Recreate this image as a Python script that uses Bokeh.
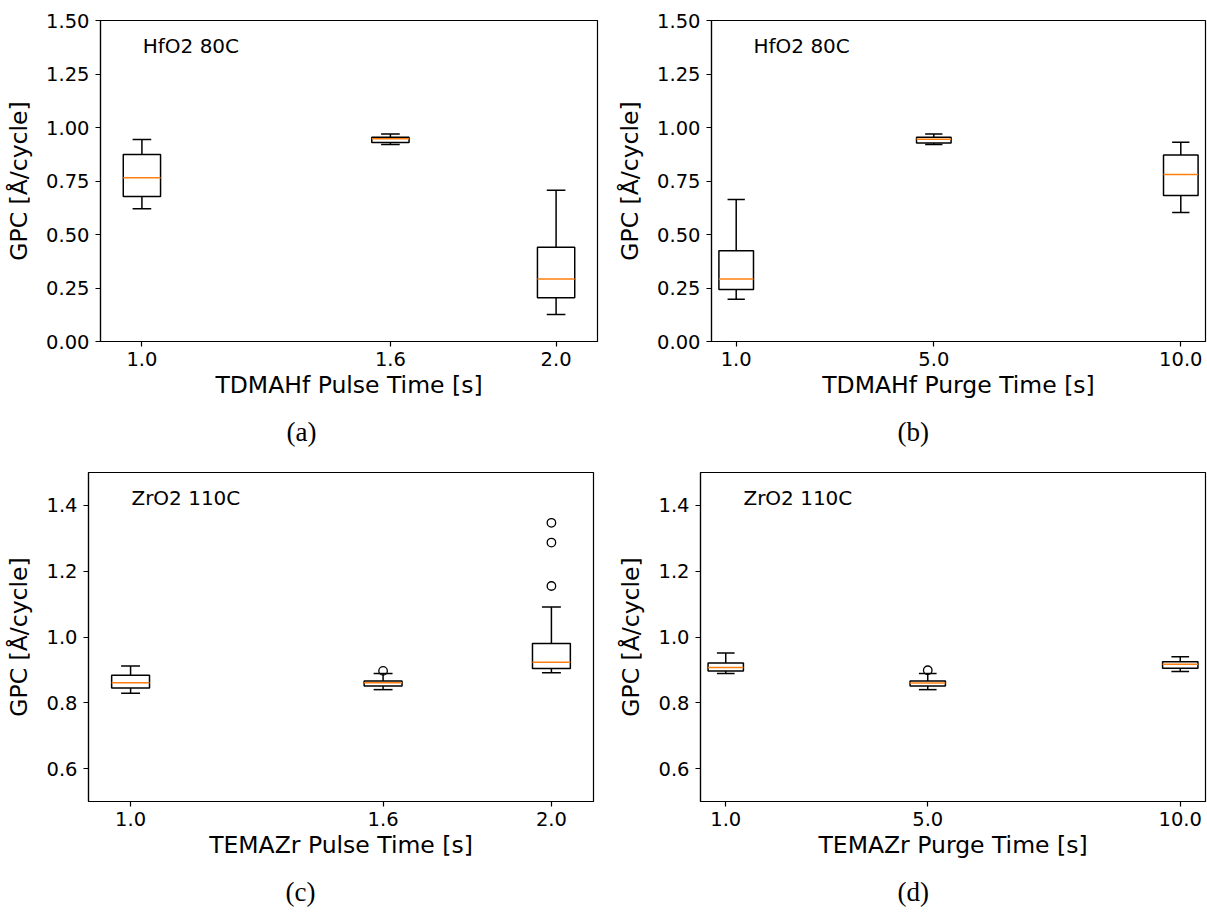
from bokeh.plotting import figure
from bokeh.layouts import row, column
from bokeh.models import (Range1d, Title, Label, FixedTicker, NumeralTickFormatter,
                          ColumnDataSource)
from bokeh.embed import file_html
from bokeh.resources import INLINE

# ---------------- data ----------------
# (a) HfO2 80C, TDMAHf pulse time
a_pos = [1.0, 1.6, 2.0]
a_low = [0.620, 0.920, 0.126]
a_q1 = [0.678, 0.930, 0.204]
a_med = [0.765, 0.947, 0.292]
a_q3 = [0.874, 0.955, 0.441]
a_high = [0.944, 0.970, 0.707]
a_fly_x = []
a_fly_y = []

# (b) HfO2 80C, TDMAHf purge time
b_pos = [1.0, 5.0, 10.0]
b_low = [0.197, 0.920, 0.603]
b_q1 = [0.243, 0.928, 0.682]
b_med = [0.292, 0.945, 0.780]
b_q3 = [0.424, 0.955, 0.871]
b_high = [0.664, 0.970, 0.931]
b_fly_x = []
b_fly_y = []

# (c) ZrO2 110C, TEMAZr pulse time
c_pos = [1.0, 1.6, 2.0]
c_low = [0.829, 0.840, 0.891]
c_q1 = [0.845, 0.851, 0.904]
c_med = [0.861, 0.861, 0.923]
c_q3 = [0.884, 0.866, 0.980]
c_high = [0.912, 0.889, 1.091]
c_fly_x = [1.6, 2.0, 2.0, 2.0]
c_fly_y = [0.897, 1.347, 1.287, 1.155]

# (d) ZrO2 110C, TEMAZr purge time
d_pos = [1.0, 5.0, 10.0]
d_low = [0.889, 0.840, 0.895]
d_q1 = [0.897, 0.851, 0.905]
d_med = [0.907, 0.860, 0.917]
d_q3 = [0.921, 0.866, 0.925]
d_high = [0.951, 0.889, 0.940]
d_fly_x = [5.0]
d_fly_y = [0.899]

top_yticks = [0.0, 0.25, 0.5, 0.75, 1.0, 1.25, 1.5]
bottom_yticks = [0.6, 0.8, 1.0, 1.2, 1.4]

FONT = "DejaVu Sans"
ORANGE = "#ff7f0e"


def panel(pos, low, q1, med, q3, high, fx, fy, *, xlabel, note, caption,
          xr, yr, yticks, yfmt, bw, width, height, bl, br, bt, bb, cap_off):
    p = figure(width=width, height=height, output_backend="svg",
               toolbar_location=None, x_range=Range1d(*xr), y_range=Range1d(*yr),
               min_border_left=bl, min_border_right=br, min_border_top=bt,
               min_border_bottom=bb)
    p.grid.visible = False
    p.outline_line_color = "black"
    p.outline_line_width = 1.2
    p.background_fill_color = "white"
    p.border_fill_color = "white"

    for ax in (p.xaxis[0], p.yaxis[0]):
        ax.axis_line_color = "black"
        ax.axis_line_width = 1.2
        ax.major_tick_line_color = "black"
        ax.major_tick_line_width = 1.2
        ax.major_tick_in = 0
        ax.major_tick_out = 5
        ax.minor_tick_line_color = None
        ax.major_label_text_font = FONT
        ax.major_label_text_font_size = "19.5px"
        ax.major_label_text_color = "black"
        ax.axis_label_text_font = FONT
        ax.axis_label_text_font_size = "23.5px"
        ax.axis_label_text_font_style = "normal"
        ax.axis_label_text_color = "black"

    p.xaxis.ticker = FixedTicker(ticks=pos)
    p.xaxis.formatter = NumeralTickFormatter(format="0.0")
    p.xaxis.axis_label = xlabel
    p.xaxis.major_label_standoff = 5
    p.xaxis.axis_label_standoff = 2

    p.yaxis.ticker = FixedTicker(ticks=yticks)
    p.yaxis.formatter = NumeralTickFormatter(format=yfmt)
    p.yaxis.axis_label = "GPC [Å/cycle]"
    p.yaxis.major_label_standoff = 6
    p.yaxis.axis_label_standoff = 10

    src = ColumnDataSource(dict(
        x=pos, low=low, q1=q1, med=med, q3=q3, high=high,
        xl=[v - bw / 2 for v in pos], xr=[v + bw / 2 for v in pos],
        cl=[v - bw / 4 for v in pos], cr=[v + bw / 4 for v in pos],
    ))
    lw = 1.5
    # whiskers
    p.segment(x0="x", y0="q3", x1="x", y1="high", source=src,
              line_color="black", line_width=lw)
    p.segment(x0="x", y0="q1", x1="x", y1="low", source=src,
              line_color="black", line_width=lw)
    # caps
    p.segment(x0="cl", y0="high", x1="cr", y1="high", source=src,
              line_color="black", line_width=lw)
    p.segment(x0="cl", y0="low", x1="cr", y1="low", source=src,
              line_color="black", line_width=lw)
    # boxes
    p.quad(left="xl", right="xr", bottom="q1", top="q3", source=src,
           fill_color=None, line_color="black", line_width=lw)
    # medians
    p.segment(x0="xl", y0="med", x1="xr", y1="med", source=src,
              line_color=ORANGE, line_width=1.5)
    # fliers
    if fx:
        p.scatter(x=fx, y=fy, size=8.5, marker="circle", fill_color=None,
                  line_color="black", line_width=1.3)

    # in-axes annotation (axes-fraction placement)
    p.add_layout(Label(x=xr[0] + 0.085 * (xr[1] - xr[0]),
                       y=yr[1] - 0.042 * (yr[1] - yr[0]),
                       text=note, text_font=FONT, text_font_size="20px",
                       text_baseline="top", text_align="left",
                       text_color="black"))

    p.add_layout(Title(text=caption, align="left", offset=cap_off,
                       text_font="Liberation Serif", text_font_size="27px",
                       text_font_style="normal", text_color="black",
                       standoff=27), "below")
    return p


pa = panel(a_pos, a_low, a_q1, a_med, a_q3, a_high, a_fly_x, a_fly_y,
           xlabel="TDMAHf Pulse Time [s]", note="HfO2 80C", caption="(a)",
           xr=(0.9, 2.1), yr=(0.0, 1.5), yticks=top_yticks, yfmt="0.00", bw=0.09,
           width=600, height=460, bl=100, br=3, bt=20, bb=118, cap_off=186)
pb = panel(b_pos, b_low, b_q1, b_med, b_q3, b_high, b_fly_x, b_fly_y,
           xlabel="TDMAHf Purge Time [s]", note="HfO2 80C", caption="(b)",
           xr=(0.5, 10.5), yr=(0.0, 1.5), yticks=top_yticks, yfmt="0.00", bw=0.7,
           width=607, height=460, bl=111, br=2, bt=20, bb=118, cap_off=186)
pc = panel(c_pos, c_low, c_q1, c_med, c_q3, c_high, c_fly_x, c_fly_y,
           xlabel="TEMAZr Pulse Time [s]", note="ZrO2 110C", caption="(c)",
           xr=(0.9, 2.1), yr=(0.5, 1.5), yticks=bottom_yticks, yfmt="0.0", bw=0.09,
           width=600, height=463, bl=88, br=7, bt=12, bb=122, cap_off=197)
pd_ = panel(d_pos, d_low, d_q1, d_med, d_q3, d_high, d_fly_x, d_fly_y,
            xlabel="TEMAZr Purge Time [s]", note="ZrO2 110C", caption="(d)",
            xr=(0.5, 10.5), yr=(0.5, 1.5), yticks=bottom_yticks, yfmt="0.0", bw=0.7,
            width=607, height=463, bl=100, br=2, bt=12, bb=122, cap_off=197)

layout = column(row(pa, pb, spacing=0), row(pc, pd_, spacing=0), spacing=0)

with open("out.html", "w") as f:
    f.write(file_html(layout, INLINE))
